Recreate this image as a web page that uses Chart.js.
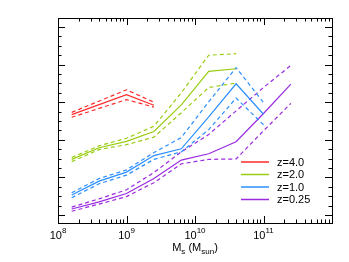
<!DOCTYPE html>
<html>
<head>
<meta charset="utf-8">
<script src="https://cdn.jsdelivr.net/npm/chart.js@4"></script>
<style>
  html, body { margin: 0; padding: 0; background: #fff; }
  canvas { display: block; }
</style>
</head>
<body>
<canvas id="massChart" width="349" height="262"></canvas>
<script>
/* ---- data (x = log10 Ms, y = arbitrary units) ---- */

const massZ40 = [8.2, 9.0, 9.4];
const midZ40  = [2.67, 3.20, 2.92];
const hiZ40   = [2.73, 3.33, 3.00];
const loZ40   = [2.60, 3.07, 2.87];

const massZ20 = [8.2, 8.6, 9.0, 9.4, 9.8, 10.2, 10.6];
const midZ20  = [1.48, 1.79, 1.96, 2.22, 2.93, 3.82, 3.89];
const hiZ20   = [1.53, 1.84, 2.04, 2.36, 3.25, 4.25, 4.29];
const loZ20   = [1.42, 1.74, 1.87, 2.07, 2.72, 3.39, 3.51];

const massZ10 = [8.2, 8.6, 9.0, 9.4, 9.8, 10.2, 10.6, 11.0];
const midZ10  = [0.53, 0.90, 1.14, 1.58, 1.76, 2.61, 3.49, 2.68];
const hiZ10   = [0.59, 0.97, 1.20, 1.66, 2.06, 3.01, 3.92, 2.99];
const loZ10   = [0.46, 0.83, 1.06, 1.48, 1.68, 2.27, 3.11, 2.40];

const massZ025 = [8.2, 8.6, 9.0, 9.4, 9.8, 10.2, 10.6, 11.0, 11.4];
const midZ025  = [0.16, 0.35, 0.57, 0.97, 1.46, 1.63, 1.95, 2.70, 3.48];
const hiZ025   = [0.21, 0.43, 0.67, 1.13, 1.68, 2.14, 2.77, 3.39, 3.98];
const loZ025   = [0.10, 0.29, 0.49, 0.86, 1.36, 1.48, 1.49, 2.24, 2.97];

const seriesLabels = ["z=4.0", "z=2.0", "z=1.0", "z=0.25"];
const seriesColors = ["#ff2a2a", "#99cc11", "#2b8fff", "#9a2be0"];

const xTickExponents = [8, 9, 10, 11];
const xRange = [1e8, 1e12];
const yRange = [-0.213, 5.24];
const yMajorTicks = [0, 1, 2, 3, 4, 5];
const yMinorStep = 0.25;

/* ---- build datasets ---- */

function pts(logm, vals) {
  return logm.map((m, i) => ({ x: Math.pow(10, m), y: vals[i] }));
}

const groups = [
  [massZ40, midZ40, hiZ40, loZ40],
  [massZ20, midZ20, hiZ20, loZ20],
  [massZ10, midZ10, hiZ10, loZ10],
  [massZ025, midZ025, hiZ025, loZ025]
];

const datasets = [];
groups.forEach((g, i) => {
  const col = seriesColors[i];
  datasets.push({ label: seriesLabels[i], data: pts(g[0], g[1]), borderColor: col,
    borderWidth: 1.2, pointRadius: 0, tension: 0, solid: true });
  datasets.push({ label: "", data: pts(g[0], g[2]), borderColor: col,
    borderWidth: 1.2, borderDash: [4, 3], pointRadius: 0, tension: 0 });
  datasets.push({ label: "", data: pts(g[0], g[3]), borderColor: col,
    borderWidth: 1.2, borderDash: [4, 3], pointRadius: 0, tension: 0 });
});

/* ---- frame, inward ticks, labels, legend ---- */

const FONT = '"Liberation Sans", Arial, sans-serif';

const framePlugin = {
  id: "frame",
  afterDraw(chart) {
    const ctx = chart.ctx;
    const a = chart.chartArea;
    const xs = chart.scales.x, ys = chart.scales.y;
    ctx.save();
    ctx.strokeStyle = "#000";
    ctx.lineWidth = 1;
    ctx.strokeRect(Math.round(a.left) + 0.5, Math.round(a.top) + 0.5,
      Math.round(a.right - a.left), Math.round(a.bottom - a.top));

    ctx.beginPath();
    // x ticks, bottom and top
    for (let e = 8; e < 12; e++) {
      for (let k = 1; k <= 9; k++) {
        const v = k * Math.pow(10, e);
        const px = Math.round(xs.getPixelForValue(v)) + 0.5;
        const len = k === 1 ? 7 : 3.5;
        ctx.moveTo(px, a.bottom); ctx.lineTo(px, a.bottom - len);
        ctx.moveTo(px, a.top); ctx.lineTo(px, a.top + len);
      }
    }
    // y ticks, left and right
    for (let v = 0; v <= yRange[1] + 0.01; v += yMinorStep) {
      const py = Math.round(ys.getPixelForValue(v)) + 0.5;
      const len = yMajorTicks.includes(v) ? 7 : 3.5;
      ctx.moveTo(a.left, py); ctx.lineTo(a.left + len, py);
      ctx.moveTo(a.right, py); ctx.lineTo(a.right - len, py);
    }
    ctx.stroke();

    // x tick labels 10^n
    ctx.fillStyle = "#000";
    ctx.textBaseline = "alphabetic";
    xTickExponents.forEach(e => {
      const px = xs.getPixelForValue(Math.pow(10, e));
      ctx.font = "11px " + FONT;
      const wb = ctx.measureText("10").width;
      ctx.font = "8px " + FONT;
      const we = ctx.measureText(String(e)).width;
      const x0 = px - (wb + we) / 2;
      ctx.font = "11px " + FONT;
      ctx.textAlign = "left";
      ctx.fillText("10", x0, a.bottom + 16);
      ctx.font = "8px " + FONT;
      ctx.fillText(String(e), x0 + wb, a.bottom + 10);
    });

    // axis title M_s (M_sun)
    const parts = [["M", 11, 0], ["s", 8, 3], [" (M", 11, 0], ["sun", 8, 3], [")", 11, 0]];
    let total = 0;
    parts.forEach(p => { ctx.font = p[1] + "px " + FONT; total += ctx.measureText(p[0]).width; });
    let tx = (a.left + a.right) / 2 - total / 2;
    parts.forEach(p => {
      ctx.font = p[1] + "px " + FONT;
      ctx.fillText(p[0], tx, a.bottom + 28 + p[2]);
      tx += ctx.measureText(p[0]).width;
    });

    // legend
    let row = 0;
    chart.data.datasets.forEach(ds => {
      if (!ds.solid) return;
      const y = a.bottom - 61 + row * 12.5;
      ctx.strokeStyle = ds.borderColor;
      ctx.lineWidth = 1.5;
      ctx.beginPath();
      ctx.moveTo(a.right - 91, y); ctx.lineTo(a.right - 63, y);
      ctx.stroke();
      ctx.fillStyle = "#000";
      ctx.font = "11px " + FONT;
      ctx.textBaseline = "middle";
      ctx.fillText(ds.label, a.right - 55, y + 0.5);
      row++;
    });
    ctx.restore();
  }
};

new Chart(document.getElementById("massChart"), {
  type: "line",
  data: { datasets },
  options: {
    responsive: false,
    animation: false,
    devicePixelRatio: 1,
    layout: { padding: { left: 58, right: 17, top: 18, bottom: 39 } },
    plugins: { legend: { display: false }, tooltip: { enabled: false } },
    scales: {
      x: {
        type: "logarithmic", min: xRange[0], max: xRange[1],
        ticks: { display: false }, grid: { display: false, drawTicks: false },
        border: { display: false }
      },
      y: {
        type: "linear", min: yRange[0], max: yRange[1],
        ticks: { display: false }, grid: { display: false, drawTicks: false },
        border: { display: false }
      }
    }
  },
  plugins: [framePlugin]
});
</script>
</body>
</html>
